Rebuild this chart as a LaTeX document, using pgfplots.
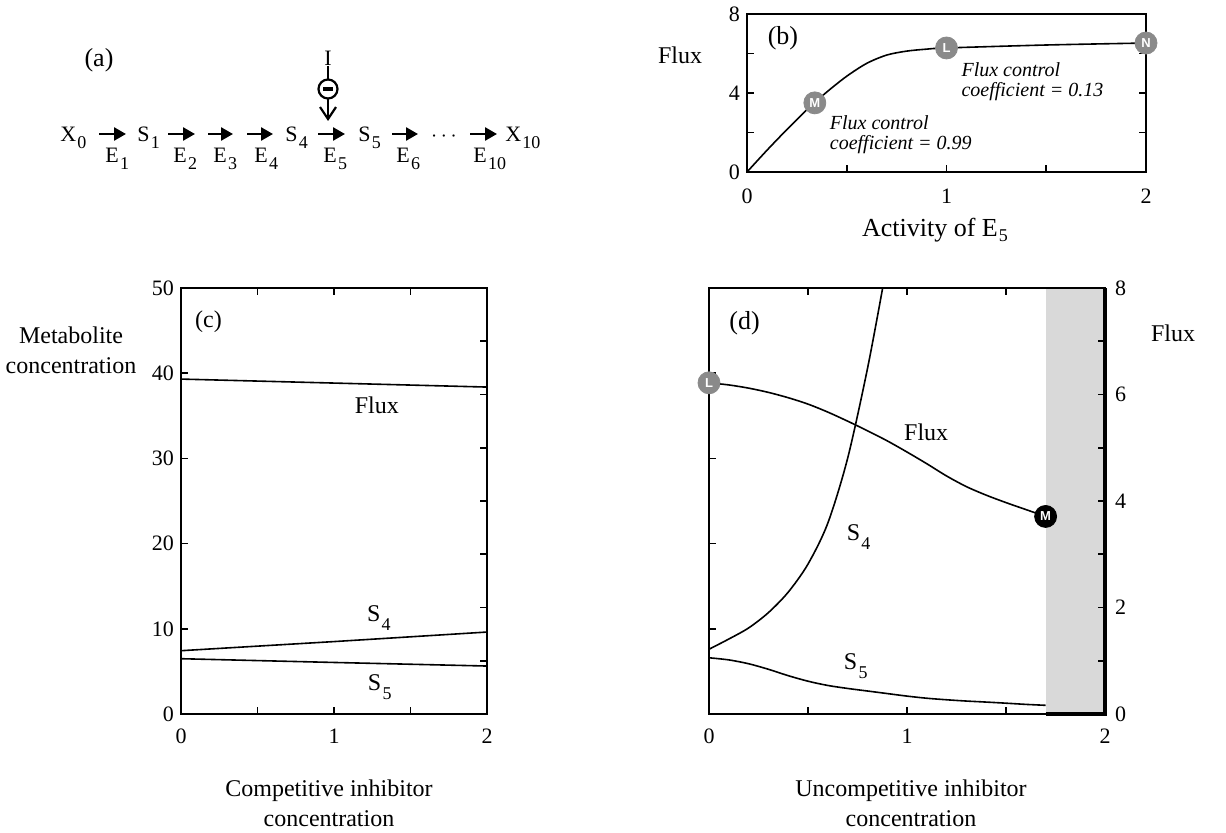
\documentclass[border=0pt]{standalone}
\usepackage{fontspec}
\setmainfont{Liberation Serif}
\setsansfont{Liberation Sans}
\usepackage{pgfplots}
\pgfplotsset{compat=1.18}
\usetikzlibrary{arrows.meta}

\definecolor{markgray}{RGB}{138,138,138}
\definecolor{shade}{RGB}{217,217,217}

\newcommand{\lab}{\fontsize{12}{15}\selectfont}
\newcommand{\tk}{\fontsize{11}{13}\selectfont}
\newcommand{\sch}{\fontsize{11}{13}\selectfont}
% low, small subscript as in the original typesetting
\newcommand{\sub}[2][4.5pt]{\kern0.6pt\raisebox{-#1}{\fontsize{9}{9}\selectfont #2}}

\pgfplotsset{
  panel/.style={
    scale only axis, anchor=south west, clip=false,
    xmin=0, xmax=2,
    axis line style={line width=0.9pt},
    tick style={black, line width=0.8pt},
    major tick length=3.5pt,
    tick align=inside,
    ticklabel style={font=\tk},
    /pgf/number format/assume math mode=true,
  },
  curve/.style={black, line width=0.8pt, mark=none},
  dot/.style={only marks, mark=*, mark size=5.5pt,
    nodes near coords, point meta=explicit symbolic,
    nodes near coords align={anchor=center},
    every node near coord/.append style={text=white, inner sep=0pt,
      font=\sffamily\bfseries\fontsize{6.5}{6.5}\selectfont}},
}

\begin{document}
\begin{tikzpicture}

% ---------- (b) flux vs activity of E5
\begin{axis}[panel, at={(373.5pt,330pt)}, width=199.5pt, height=79pt,
  ymin=0, ymax=8, ytick={0,2,...,8}, yticklabels={0,,4,,8},
  xtick={0,0.5,...,2}, xticklabels={0,,1,,2}, xtick pos=bottom,
  xticklabel style={yshift=-5pt}]
\addplot[curve, smooth] coordinates {
  (0,0) (0.1,1.1) (0.2,2.15) (0.3,3.15) (0.4,4.05) (0.5,4.85)
  (0.6,5.5) (0.7,5.92) (0.8,6.12) (0.9,6.22) (1,6.28)
  (1.5,6.43) (2,6.53)};
\addplot[dot, mark options={fill=markgray, draw=markgray}] coordinates {
  (0.34,3.5) [M] (1,6.28) [L] (2,6.53) [N]};
\node[font=\fontsize{13}{15}\selectfont] at (axis cs:0.18,6.78) {(b)};
\node[anchor=west, align=left, font=\itshape\fontsize{10}{10}\selectfont]
  at (axis cs:1.04,4.56) {Flux control\\coefficient = 0.13};
\node[anchor=west, align=left, font=\itshape\fontsize{10}{10}\selectfont]
  at (axis cs:0.38,1.87) {Flux control\\coefficient = 0.99};
\end{axis}

% ---------- (c) competitive inhibitor: metabolites
\begin{axis}[panel, at={(90.5pt,59pt)}, width=153pt, height=213pt,
  ymin=0, ymax=50, ytick={0,10,...,50}, ytick pos=left,
  xtick={0,0.5,...,2}, xticklabels={0,,1,,2},
  xtick pos=both, xticklabel pos=bottom,
  xticklabel style={yshift=-4pt}]
\addplot[curve] coordinates {(0,7.43) (1,8.5) (2,9.62)};
\addplot[curve] coordinates {(0,6.49) (1,6.05) (2,5.63)};
\node[font=\lab] at (axis cs:0.18,46.0) {(c)};
\node[font=\lab, anchor=base west] at (axis cs:1.09,35.3) {Flux};
\node[font=\lab, anchor=base west] at (axis cs:1.17,10.8) {S\sub{4}};
\node[font=\lab, anchor=base west] at (axis cs:1.176,2.8) {S\sub{5}};
\end{axis}
% (c) flux on the right-hand scale
\begin{axis}[panel, at={(90.5pt,59pt)}, width=153pt, height=213pt,
  ymin=0, ymax=8, hide x axis, axis y line*=right,
  ytick={1,...,7}, yticklabels={}]
\addplot[curve] coordinates {(0,6.29) (2,6.14)};
\end{axis}

% ---------- (d) uncompetitive inhibitor: metabolites
\begin{axis}[panel, at={(354.5pt,59pt)}, width=198pt, height=213pt,
  axis on top,
  ymin=0, ymax=50, ytick={10,20,30,40}, yticklabels={}, ytick pos=left,
  xtick={0,0.5,...,2}, xticklabels={0,,1,,2},
  xtick pos=both, xticklabel pos=bottom,
  xticklabel style={yshift=-4pt}]
\addplot[fill=shade, draw=none] coordinates {(1.7,0) (2,0) (2,50) (1.7,50)} -- cycle;
\addplot[curve, smooth] coordinates {
  (0,7.6) (0.1,8.8) (0.2,10.1) (0.3,11.9) (0.4,14.3) (0.5,17.6)
  (0.6,22.4) (0.7,30.0) (0.8,40.5) (0.877,50)};
\addplot[curve, smooth] coordinates {
  (0,6.6) (0.1,6.35) (0.2,5.9) (0.3,5.25) (0.4,4.5) (0.5,3.85)
  (0.6,3.35) (0.7,3.0) (0.8,2.7) (0.9,2.4) (1.0,2.1) (1.1,1.85)
  (1.2,1.67) (1.3,1.52) (1.4,1.4) (1.5,1.27) (1.6,1.13) (1.7,1.02)};
\node[font=\fontsize{13}{15}\selectfont] at (axis cs:0.18,45.9) {(d)};
\node[font=\lab, anchor=base west] at (axis cs:0.95,32.1) {Flux};
\node[font=\lab, anchor=base west] at (axis cs:0.66,20.4) {S\sub{4}};
\node[font=\lab, anchor=base west] at (axis cs:0.646,5.27) {S\sub{5}};
\end{axis}
% (d) flux on the right-hand scale
\begin{axis}[panel, at={(354.5pt,59pt)}, width=198pt, height=213pt,
  ymin=0, ymax=8, hide x axis, axis y line*=right,
  ytick={0,...,8}, yticklabels={0,,2,,4,,6,,8},
  yticklabel style={xshift=1.5pt}]
\addplot[black, line width=1.6pt] coordinates {(1.7,0) (2,0) (2,8)};
\addplot[curve, smooth] coordinates {
  (0,6.22) (0.1,6.18) (0.2,6.12) (0.3,6.04) (0.4,5.94) (0.5,5.82)
  (0.6,5.67) (0.7,5.5) (0.8,5.32) (0.9,5.13) (1.0,4.92) (1.1,4.7)
  (1.2,4.47) (1.3,4.27) (1.4,4.11) (1.5,3.97) (1.6,3.84) (1.7,3.71)};
\addplot[dot, mark options={fill=markgray, draw=markgray}] coordinates {(0,6.22) [L]};
\addplot[dot, mark options={fill=black, draw=black}] coordinates {(1.7,3.71) [M]};
\end{axis}

% ---------- labels and scheme (a), in pixel units of the reference
\begin{scope}[shift={(0,416pt)}, x=0.5pt, y=-0.5pt]
  \node[font=\lab] at (680,55) {Flux};
  \node[font=\fontsize{13}{15}\selectfont] at (935,230) {Activity of E\sub[2.5pt]{5}};
  \node[font=\lab, align=center] at (71,350) {Metabolite\\concentration};
  \node[font=\lab] at (1173,333) {Flux};
  \node[font=\lab, align=center] at (329,803) {Competitive inhibitor\\concentration};
  \node[font=\lab, align=center] at (911,803) {Uncompetitive inhibitor\\concentration};

  % reaction scheme
  \node[font=\fontsize{13}{15}\selectfont] at (99,60) {(a)};
  \node[font=\sch] at (328,58) {I};
  \draw[line width=1.1pt] (328,66) -- (328,79);
  \draw[line width=1.1pt] (328,89) circle[radius=9.5];
  \draw[line width=1.6pt] (323,89) -- (333,89);
  \draw[line width=1.1pt, -{Straight Barb[length=6pt,width=8pt]}] (328,99) -- (328,121);

  \foreach \a/\b in {99/126, 168/195, 208/233, 247/273, 318/345, 392/418, 470/497}
    \draw[line width=1.3pt, -{Triangle[length=6pt,width=6.5pt]}] (\a,134) -- (\b,134);

  \foreach \xx/\t in {60/X\sub[3.5pt]{0}, 137/S\sub[3.5pt]{1}, 285/S\sub[3.5pt]{4},
                      358/S\sub[3.5pt]{5}, 505/X\sub[3.5pt]{10}}
    \node[font=\sch, anchor=base west, inner sep=0pt] at (\xx,142) {\t};
  \node[font=\sch, anchor=base, inner sep=0pt] at (444,142) {$\cdots$};

  \foreach \xx/\t in {105/1, 173/2, 213/3, 254/4, 323/5, 396/6, 473/10}
    \node[font=\sch, anchor=base west, inner sep=0pt] at (\xx,163) {E\sub[3.5pt]{\t}};
\end{scope}

\pgfresetboundingbox
\path[use as bounding box] (0,0) rectangle (613pt,416pt);
\end{tikzpicture}
\end{document}
